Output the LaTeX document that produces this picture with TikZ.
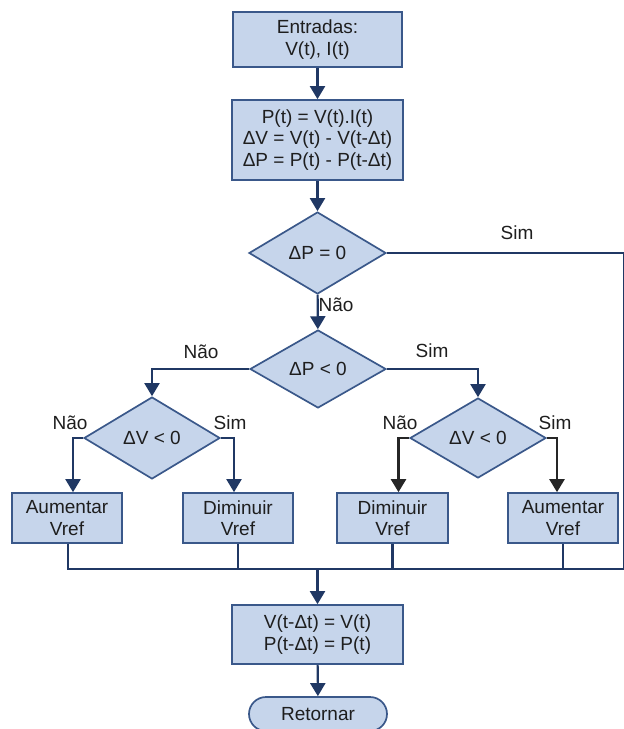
\documentclass[tikz,border=0pt]{standalone}
\usepackage{fontspec}
\setmainfont{Liberation Sans}
\usetikzlibrary{shapes.geometric,shapes.misc,arrows.meta}
\definecolor{boxfill}{RGB}{198,213,235}
\definecolor{boxline}{RGB}{58,88,138}
\definecolor{wire}{RGB}{32,56,100}
\definecolor{txt}{RGB}{30,30,30}
\tikzset{
  every node/.style={font=\fontsize{19}{21.5}\selectfont, text=txt},
  procbox/.style={rectangle, draw=boxline, fill=boxfill, line width=1.7pt,
    inner sep=0pt, align=center},
  decision/.style={diamond, draw=boxline, fill=boxfill, line width=1.7pt,
    inner sep=0pt, aspect=1.7},
  terminal/.style={rounded rectangle, draw=boxline, fill=boxfill, line width=1.7pt,
    inner sep=0pt, minimum width=138pt, minimum height=34pt},
  link/.style={draw=wire, line width=2.1pt},
  arr/.style={link, ->},
  darkarr/.style={arr, draw=black!85, line width=2.4pt},
  lbl/.style={inner sep=0pt}
}
\begin{document}
\begin{tikzpicture}[x=1pt, y=-1pt, >={Triangle[width=15pt,length=13pt]}]
\useasboundingbox (0,0) rectangle (624,729);

% process steps
\node[procbox, minimum width=169pt, minimum height=55pt] (inp) at (317.5,39.5) {Entradas:\\V(t), I(t)};
\node[procbox, minimum width=171pt, minimum height=80pt] (calc) at (317.5,140) {P(t) = V(t).I(t)\\ΔV = V(t) - V(t-Δt)\\ΔP = P(t) - P(t-Δt)};

% decisions
\node[decision, minimum width=137pt, minimum height=82pt] (dp0) at (317.5,253) {ΔP = 0};
\node[decision, minimum width=136pt, minimum height=78pt] (dpn) at (318,369) {ΔP < 0};
\node[decision, minimum width=136pt, minimum height=82pt] (dvl) at (152,438) {ΔV < 0};
\node[decision, minimum width=136pt, minimum height=80pt] (dvr) at (478,438) {ΔV < 0};

% Vref actions
\node[procbox, minimum width=110pt, minimum height=50pt] (incl) at (67,518) {Aumentar\\Vref};
\node[procbox, minimum width=110pt, minimum height=50pt] (decl) at (238,518) {Diminuir\\Vref};
\node[procbox, minimum width=111pt, minimum height=50pt] (decr) at (392.5,518) {Diminuir\\Vref};
\node[procbox, minimum width=110pt, minimum height=50pt] (incr) at (563,518) {Aumentar\\Vref};

% update and return
\node[procbox, minimum width=171pt, minimum height=59pt] (upd) at (317.5,634.5) {V(t-Δt) = V(t)\\P(t-Δt) = P(t)};
\node[terminal] (ret) at (318,714) {Retornar};

% collecting bus
\coordinate (busR) at (624,569);
\coordinate (busC) at (317.5,569);

% connectors
\draw[arr] (inp) -- (calc);
\draw[arr] (calc) -- (dp0);
\draw[link] (dp0.east) -| (busR);
\draw[arr] (dp0) -- (dpn);
\draw[arr] (dpn.west) -| (dvl.north);
\draw[arr] (dpn.east) -| (dvr.north);
\draw[arr] (dvl.west) -| ([xshift=6pt]incl.north);
\draw[arr] (dvl.east) -| ([xshift=-4pt]decl.north);
\draw[darkarr] (dvr.west) -| ([xshift=6pt]decr.north);
\draw[darkarr] (dvr.east) -| ([xshift=-6pt]incr.north);
\draw[link] ([xshift=1pt]incl.south) |- (busR);
\draw[link] (decl.south) -- (decl.south |- busR);
\draw[link] (decr.south) -- (decr.south |- busR);
\draw[link] (incr.south) -- (incr.south |- busR);
\draw[arr] (busC) -- (upd);
\draw[arr] (upd) -- (ret);

% branch labels
\node[lbl] (lsim0) at (517,233) {Sim};
\node[lbl] (lnao0) at (336,305) {Não};
\node[lbl] (lnao1) at (201,352) {Não};
\node[lbl] (lsim1) at (432,351) {Sim};
\node[lbl] (lnao2) at (70,423) {Não};
\node[lbl] (lsim2) at (230,423) {Sim};
\node[lbl] (lnao3) at (400,423) {Não};
\node[lbl] (lsim3) at (555,423) {Sim};
\end{tikzpicture}
\end{document}
